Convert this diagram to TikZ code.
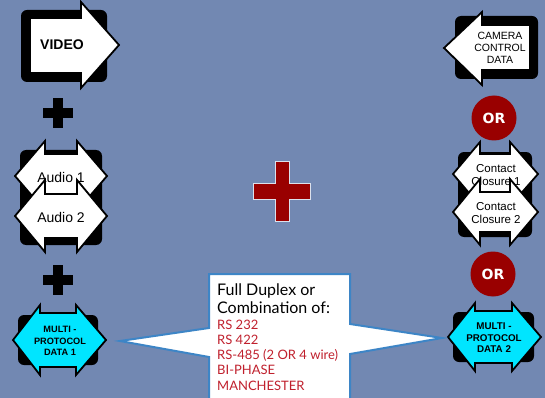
\documentclass[tikz,border=0pt]{standalone}
\usepackage{fontspec}
\setmainfont{Liberation Sans}
\newfontfamily\calloutfont{Lato}
\newfontfamily\orfont{DejaVu Sans}
\definecolor{bg}{RGB}{114,136,178}
\definecolor{darkred}{RGB}{153,0,0}
\definecolor{cyanfill}{RGB}{0,229,255}
\definecolor{calloutblue}{RGB}{61,133,198}
\definecolor{listred}{RGB}{192,32,45}
% fill, Ltip, Rtip, xl, xr, cy, headhalf, bodyhalf
\newcommand\dblarrow[8]{%
  \draw[arrowline, fill=#1] (#2,#6) -- (#4,{#6-#7}) -- (#4,{#6-#8}) -- (#5,{#6-#8})
    -- (#5,{#6-#7}) -- (#3,#6) -- (#5,{#6+#7}) -- (#5,{#6+#8}) -- (#4,{#6+#8})
    -- (#4,{#6+#7}) -- cycle;}
% black plus: cx, cy
\newcommand\blackplus[2]{%
  \fill[black] ({#1-15},{#2-5}) rectangle ({#1+15},{#2+5});
  \fill[black] ({#1-5},{#2-15}) rectangle ({#1+5},{#2+15});}
\begin{document}
\begin{tikzpicture}[x=1pt,y=-1pt,
  blackbox/.style={fill=black, rounded corners=6pt},
  arrowline/.style={draw=black, line width=1.8pt, line join=miter},
  lbl/.style={inner sep=0pt, align=center, text=black},
  orcircle/.style={circle, fill=darkred, minimum size=45pt, inner sep=0pt,
    text=white, font=\orfont\bfseries\fontsize{14}{16}\selectfont},
  callouttext/.style={anchor=base west, inner sep=0pt, font=\calloutfont\fontsize{16}{18}\selectfont},
  listtext/.style={anchor=base west, inner sep=0pt, text=listred, font=\calloutfont\fontsize{13}{15}\selectfont}]
\fill[bg] (0,0) rectangle (545,398);
\useasboundingbox (0,0) rectangle (545,398);
\clip (0,0) rectangle (545,398);

% VIDEO
\fill[blackbox] (21,10) rectangle (107,82);
\draw[arrowline, fill=white] (30,18) -- (81,18) -- (81,2) -- (119,45) -- (81,88) -- (81,73) -- (30,73) -- cycle;
\node[lbl, font=\bfseries\fontsize{14}{16}\selectfont] (video) at (62,45) {VIDEO};

\blackplus{58}{113}

% Audio
\fill[blackbox] (20,150) rectangle (102,245);
\dblarrow{white}{15}{107}{45}{77}{176}{35}{22}
\node[lbl, font=\fontsize{14}{16}\selectfont] (audio1) at (61,177) {Audio 1};
\dblarrow{white}{15}{107}{45}{77}{216}{36}{22}
\node[lbl, font=\fontsize{14}{16}\selectfont] (audio2) at (61,217) {Audio 2};

\blackplus{58}{280}

% Multi 1
\fill[blackbox] (18,315) rectangle (98,365);
\dblarrow{cyanfill}{13}{106}{40}{76}{340}{35}{27}
\node[lbl, font=\bfseries\fontsize{9.2}{11.5}\selectfont] (multi1) at (60,341) {MULTI -\\PROTOCOL\\DATA 1};

% Camera control
\fill[blackbox] (455,16) rectangle (538,79);
\draw[arrowline, fill=white] (444,48) -- (482,12) -- (482,25) -- (530,25) -- (530,70) -- (482,70) -- (482,85) -- cycle;
\node[lbl, font=\fontsize{10.5}{11.8}\selectfont] (camera) at (500,48) {CAMERA\\CONTROL\\DATA};

\node[orcircle] (or1) at (494,118) {OR};

% Contact closures
\fill[blackbox] (458,152) rectangle (532,237);
\dblarrow{white}{453}{538}{480}{510}{174}{32}{20}
\node[lbl, font=\fontsize{11.5}{13.5}\selectfont] (cc1) at (496,175) {Contact\\Closure 1};
\dblarrow{white}{453}{538}{480}{510}{212}{33}{20}
\node[lbl, font=\fontsize{11.5}{13.5}\selectfont] (cc2) at (496,213) {Contact\\Closure 2};

\node[orcircle] (or2) at (493,274) {OR};

% Multi 2
\fill[blackbox] (453,312) rectangle (534,362);
\dblarrow{cyanfill}{448}{541}{475}{512}{337}{34}{26}
\node[lbl, font=\bfseries\fontsize{9.8}{11.5}\selectfont] (multi2) at (494,338) {MULTI -\\PROTOCOL\\DATA 2};

% Red cross
\draw[fill=darkred, draw=white!75!bg, line width=0.8pt]
  (275,161) -- (289,161) -- (289,183) -- (310,183) -- (310,199) -- (289,199)
  -- (289,221) -- (275,221) -- (275,199) -- (253,199) -- (253,183) -- (275,183) -- cycle;

% Callout
\draw[fill=white, draw=calloutblue, line width=2pt, line join=miter]
  (209,274) -- (350,274) -- (350,324) -- (442,338) -- (350,354) -- (350,402)
  -- (209,402) -- (209,357) -- (120,341) -- (209,328) -- cycle;
\node[callouttext] (c1) at (217,295) {Full Duplex or};
\node[callouttext] (c2) at (217,313) {Combination of:};
\node[listtext] (r1) at (217,329) {RS 232};
\node[listtext] (r2) at (217,344) {RS 422};
\node[listtext] (r3) at (217,359) {RS-485 (2 OR 4 wire)};
\node[listtext] (r4) at (217,374.5) {BI-PHASE};
\node[listtext] (r5) at (217,390) {MANCHESTER};
\end{tikzpicture}
\end{document}
